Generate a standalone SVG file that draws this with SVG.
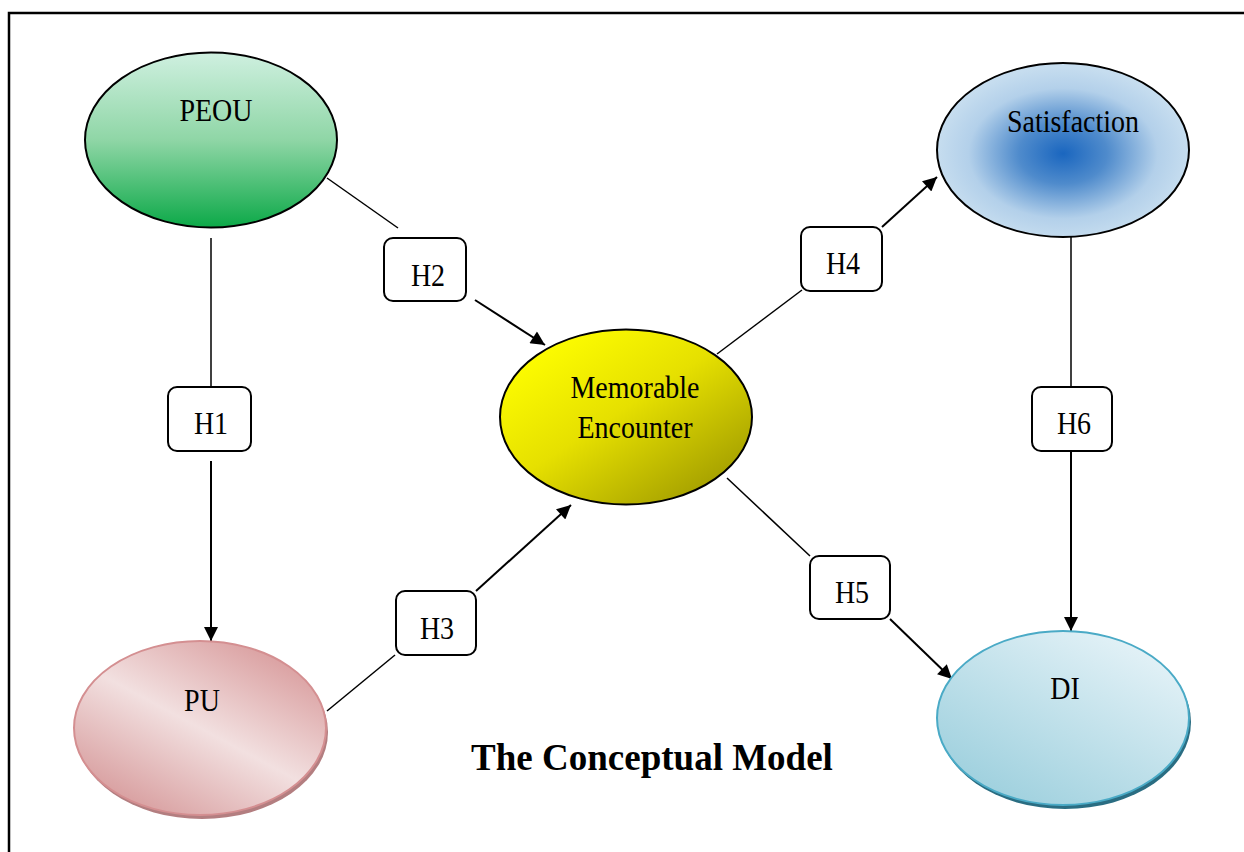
<svg xmlns="http://www.w3.org/2000/svg" width="1244" height="852" viewBox="0 0 1244 852">
<defs>
<linearGradient id="gPeou" x1="0" y1="0" x2="0" y2="1">
<stop offset="0" stop-color="#cff0e0"/>
<stop offset="0.5" stop-color="#8fd6a6"/>
<stop offset="1" stop-color="#0ca948"/>
</linearGradient>
<radialGradient id="gSat" cx="0.5" cy="0.52" r="0.5">
<stop offset="0" stop-color="#1a66bf"/>
<stop offset="0.35" stop-color="#4f8bcc"/>
<stop offset="0.75" stop-color="#b3d0ea"/>
<stop offset="1" stop-color="#c6ddef"/>
</radialGradient>
<linearGradient id="gMe" x1="0.1" y1="0.1" x2="0.9" y2="0.95">
<stop offset="0" stop-color="#ffff00"/>
<stop offset="0.45" stop-color="#e6e000"/>
<stop offset="1" stop-color="#9d9800"/>
</linearGradient>
<linearGradient id="gPu" x1="0.85" y1="0.05" x2="0.15" y2="0.95">
<stop offset="0" stop-color="#d89a9b"/>
<stop offset="0.5" stop-color="#f2e0e0"/>
<stop offset="1" stop-color="#d6999a"/>
</linearGradient>
<linearGradient id="gDi" x1="0.85" y1="0.05" x2="0.15" y2="0.95">
<stop offset="0" stop-color="#e6f3f8"/>
<stop offset="1" stop-color="#9ccfdd"/>
</linearGradient>
<marker id="arr" viewBox="0 0 10 10" refX="10" refY="5" markerWidth="8" markerHeight="7" markerUnits="strokeWidth" orient="auto">
<path d="M0,0 L10,5 L0,10 z" fill="#000"/>
</marker>
<style>
.lbl{font-family:"Liberation Serif","Times New Roman",serif;font-size:28px;fill:#000;text-anchor:middle}
.box{fill:#fff;stroke:#000;stroke-width:2}
.ln{stroke:#000;stroke-width:1.5;fill:none}
.la{stroke:#000;stroke-width:2;fill:none;marker-end:url(#arr)}
</style>
</defs>
<path d="M9,852 V13 H1244" fill="none" stroke="#000" stroke-width="2.5"/>
<g id="connectors">
<line class="ln" x1="211" y1="238" x2="211" y2="387"/>
<line class="la" x1="211" y1="461" x2="211" y2="641"/>
<line class="ln" x1="327" y1="178" x2="398" y2="228"/>
<line class="la" x1="475" y1="300" x2="545" y2="345"/>
<line class="ln" x1="327" y1="711" x2="395" y2="655"/>
<line class="la" x1="476" y1="591" x2="571" y2="505"/>
<line class="ln" x1="717" y1="354" x2="802" y2="290"/>
<line class="la" x1="882" y1="227" x2="937" y2="177"/>
<line class="ln" x1="727" y1="478" x2="810" y2="556"/>
<line class="la" x1="890" y1="619" x2="952" y2="679"/>
<line class="ln" x1="1071" y1="237" x2="1071" y2="387"/>
<line class="la" x1="1071" y1="451" x2="1071" y2="631"/>
</g>
<g id="PEOU">
<ellipse cx="211" cy="140" rx="126" ry="87.5" fill="url(#gPeou)" stroke="#000" stroke-width="2"/>
<text class="lbl" transform="translate(216,121) scale(1,1.12)">PEOU</text>
</g>
<g id="Satisfaction">
<ellipse cx="1063" cy="150" rx="126" ry="87" fill="url(#gSat)" stroke="#000" stroke-width="2"/>
<text class="lbl" transform="translate(1073,132) scale(1,1.12)">Satisfaction</text>
</g>
<g id="MemorableEncounter">
<ellipse cx="626" cy="417" rx="126" ry="87.5" fill="url(#gMe)" stroke="#000" stroke-width="2"/>
<text class="lbl" transform="translate(635,398) scale(1,1.12)">Memorable</text>
<text class="lbl" transform="translate(635,438) scale(1,1.12)">Encounter</text>
</g>
<g id="PU">
<ellipse cx="202" cy="732" rx="126" ry="87" fill="#b37e80"/>
<ellipse cx="200" cy="728" rx="126" ry="87" fill="url(#gPu)" stroke="#d48f91" stroke-width="2"/>
<text class="lbl" transform="translate(202,711) scale(1,1.12)">PU</text>
</g>
<g id="DI">
<ellipse cx="1065" cy="722" rx="126" ry="87" fill="#2a6d82"/>
<ellipse cx="1063" cy="718" rx="126" ry="87" fill="url(#gDi)" stroke="#4aaac6" stroke-width="2"/>
<text class="lbl" transform="translate(1065,699) scale(1,1.12)">DI</text>
</g>
<g id="H1">
<rect class="box" x="168" y="387" width="83" height="64" rx="9"/>
<text class="lbl" transform="translate(211,434) scale(1,1.12)">H1</text>
</g>
<g id="H2">
<rect class="box" x="384" y="238" width="82" height="63" rx="9"/>
<text class="lbl" transform="translate(428,286) scale(1,1.12)">H2</text>
</g>
<g id="H3">
<rect class="box" x="396" y="591" width="80" height="64" rx="9"/>
<text class="lbl" transform="translate(437,639) scale(1,1.12)">H3</text>
</g>
<g id="H4">
<rect class="box" x="801" y="227" width="81" height="64" rx="9"/>
<text class="lbl" transform="translate(843,274) scale(1,1.12)">H4</text>
</g>
<g id="H5">
<rect class="box" x="810" y="556" width="80" height="63" rx="9"/>
<text class="lbl" transform="translate(852,603) scale(1,1.12)">H5</text>
</g>
<g id="H6">
<rect class="box" x="1032" y="387" width="80" height="64" rx="9"/>
<text class="lbl" transform="translate(1074,434) scale(1,1.12)">H6</text>
</g>
<g id="title">
<text x="652" y="770" font-family="'Liberation Serif','Times New Roman',serif" font-size="37" font-weight="bold" text-anchor="middle" fill="#000">The Conceptual Model</text>
</g>
</svg>
